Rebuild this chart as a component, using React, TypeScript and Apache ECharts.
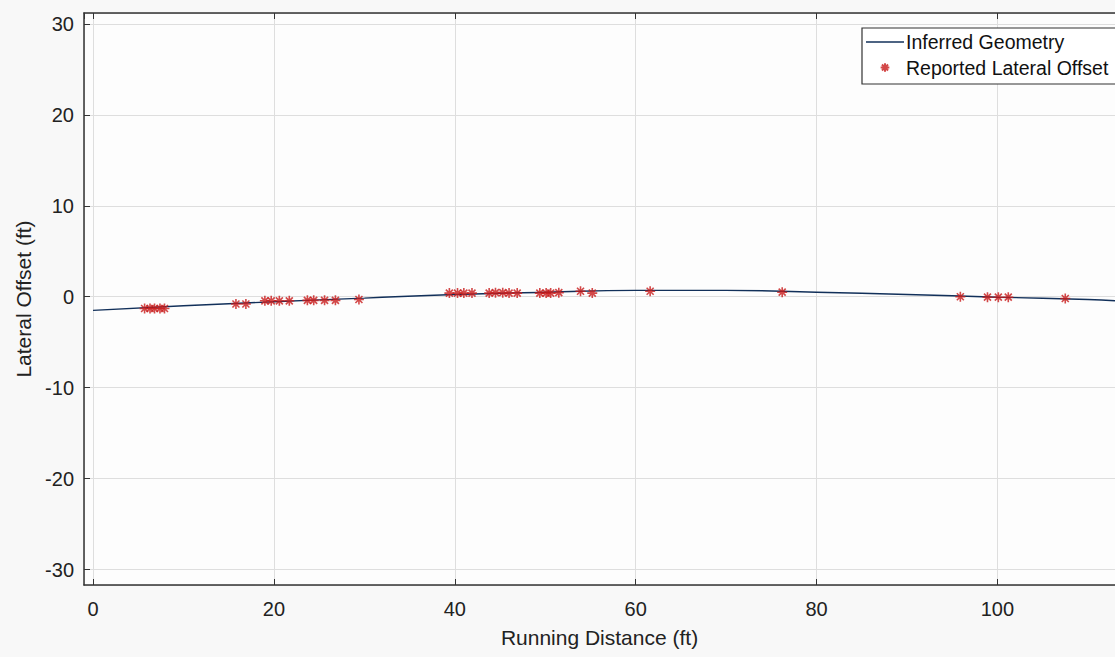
import React, { useEffect, useRef } from "react";
import * as echarts from "echarts";

const xTicks = [0, 20, 40, 60, 80, 100];
const yTicks = [-30, -20, -10, 0, 10, 20, 30];

// Inferred geometry (line)
const geomX = [0, 10, 20, 30, 40, 50, 60, 70, 80, 90, 100, 110, 113];
const geomY = [-1.5, -1.0, -0.55, -0.15, 0.25, 0.5, 0.7, 0.7, 0.5, 0.25, -0.05, -0.3, -0.45];

// Reported lateral offsets (stars)
const repX = [5.7, 6.3, 6.8, 7.4, 7.9, 15.8, 16.9, 19.0, 19.7, 20.6, 21.7, 23.7, 24.4, 25.6, 26.8, 29.4,
  39.4, 40.3, 41.0, 41.9, 43.8, 44.5, 45.3, 46.0, 46.9, 49.4, 50.1, 50.6, 51.5, 53.9, 55.2, 61.6,
  76.2, 95.9, 98.9, 100.1, 101.2, 107.5];
const repY = [-1.3, -1.3, -1.3, -1.3, -1.3, -0.8, -0.8, -0.45, -0.45, -0.45, -0.45, -0.4, -0.4, -0.4, -0.4, -0.3,
  0.4, 0.4, 0.4, 0.4, 0.4, 0.45, 0.45, 0.4, 0.4, 0.4, 0.4, 0.4, 0.45, 0.6, 0.4, 0.6,
  0.5, 0.0, -0.05, -0.05, -0.05, -0.2];

const FONT = "'Liberation Sans', Arial, Helvetica, sans-serif";
const STAR = "path://M0,-1L0,1M-1,0L1,0M-0.7,-0.7L0.7,0.7M-0.7,0.7L0.7,-0.7";
const STAR_LEGEND = "path://M0,-1L0,1M-1,0L1,0M-0.7,-0.7L0.7,0.7M-0.7,0.7L0.7,-0.7M-2.3,-2.3L-2.3,-2.3M2.3,2.3L2.3,2.3";
const LINE_LEGEND = "path://M0,-10L0,-10M0,-0.7L38,-0.7L38,0.7L0,0.7ZM0,10L0,10";

export default function App() {
  const ref = useRef<HTMLDivElement>(null);
  useEffect(() => {
    const chart = echarts.init(ref.current!, null, { renderer: "svg" });
    const lineData = geomX.map((x, i) => [x, geomY[i]]);
    const repData = repX.map((x, i) => [x, repY[i]]);
    chart.setOption({
      animation: false,
      backgroundColor: "#f8f8f8",
      textStyle: { fontFamily: FONT },
      grid: {
        left: 84, top: 13, right: -3, bottom: 72,
        show: true, backgroundColor: "#fdfdfd", borderWidth: 0,
      },
      legend: {
        orient: "vertical",
        left: 862, top: 28,
        padding: [4, 24, 4, 4],
        itemGap: 3,
        itemWidth: 38, itemHeight: 20,
        backgroundColor: "#ffffff",
        borderColor: "#333", borderWidth: 1.2,
        textStyle: { fontSize: 19.5, color: "#111", fontFamily: FONT, padding: [0, 0, 0, -3] },
        data: [
          { name: "Inferred Geometry", icon: LINE_LEGEND },
          { name: "Reported Lateral Offset", icon: STAR_LEGEND },
        ],
      },
      xAxis: [
        {
          type: "value", min: -1, max: 113, minInterval: 20, maxInterval: 20,
          name: "Running Distance (ft)", nameLocation: "middle", nameGap: 42,
          nameTextStyle: { fontSize: 21, color: "#222", fontFamily: FONT },
          axisLine: { show: true, onZero: false, lineStyle: { color: "#333", width: 1.5 } },
          axisTick: { show: true, inside: true, length: 6, lineStyle: { color: "#333" } },
          axisLabel: {
            fontSize: 20, color: "#222", margin: 14, fontFamily: FONT,
            showMinLabel: false, showMaxLabel: false,
            formatter: (v: number) => (xTicks.includes(v) ? String(v) : ""),
          },
          splitLine: { show: true, lineStyle: { color: "#dedede", width: 1 } },
        },
        {
          type: "value", position: "top", min: -1, max: 113, minInterval: 20, maxInterval: 20,
          axisLine: { show: true, onZero: false, lineStyle: { color: "#333", width: 1.5 } },
          axisTick: { show: true, inside: true, length: 6, lineStyle: { color: "#333" } },
          axisLabel: { show: false },
          splitLine: { show: false },
        },
      ],
      yAxis: {
        type: "value", min: -31.7, max: 31.2, minInterval: 10, maxInterval: 10,
        name: "Lateral Offset (ft)", nameLocation: "middle", nameGap: 50,
        nameTextStyle: { fontSize: 21, color: "#222", fontFamily: FONT },
        axisLine: { show: true, onZero: false, lineStyle: { color: "#333", width: 1.5 } },
        axisTick: { show: true, inside: true, length: 6, lineStyle: { color: "#333" } },
        axisLabel: {
          fontSize: 20, color: "#222", margin: 10, fontFamily: FONT,
          showMinLabel: false, showMaxLabel: false,
          formatter: (v: number) => (yTicks.includes(v) ? String(v) : ""),
        },
        splitLine: { show: true, lineStyle: { color: "#dedede", width: 1 } },
      },
      series: [
        {
          name: "Inferred Geometry",
          type: "line",
          data: lineData,
          smooth: true,
          symbol: "none",
          lineStyle: { color: "#12305a", width: 1.4 },
          itemStyle: { color: "#12305a" },
        },
        {
          name: "Reported Lateral Offset",
          type: "scatter",
          data: repData,
          symbol: STAR,
          symbolSize: 10,
          itemStyle: { color: "none", borderColor: "#c81a1a", borderWidth: 1.6 },
          z: 3,
        },
      ],
    });
    return () => chart.dispose();
  }, []);
  return <div ref={ref} style={{ position: "fixed", left: 0, top: 0, width: 1115, height: 657 }} />;
}
